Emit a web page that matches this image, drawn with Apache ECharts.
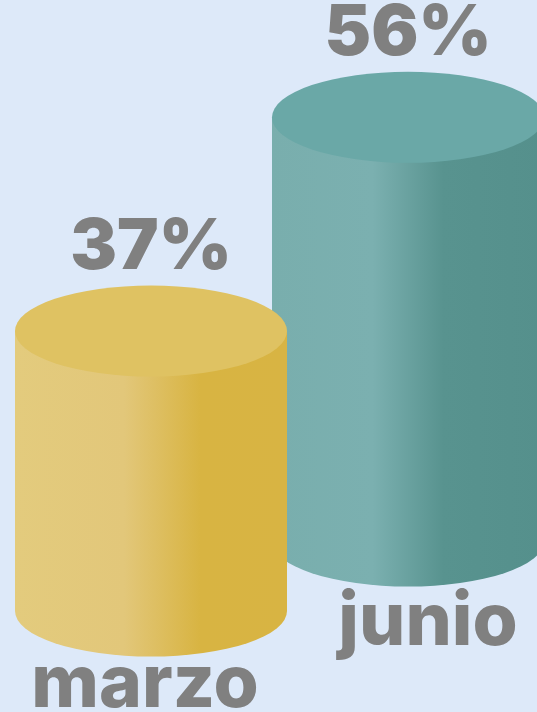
<!DOCTYPE html>
<html>
<head>
<meta charset="utf-8">
<script src="https://cdn.jsdelivr.net/npm/echarts@6/dist/echarts.min.js"></script>
<style>
html,body{margin:0;padding:0;background:#dde9f9;}
#chart{width:537px;height:712px;}
</style>
</head>
<body>
<div id="chart"></div>
<script>
const categories = ['marzo', 'junio'];
const values = [37, 56];

const palettes = [
  { top: '#dfc262', body: [['0', '#e3cb7d'], ['0.4', '#e2c77a'], ['0.68', '#d8b442'], ['1', '#d8b443']] },
  { top: '#6aa8a7', body: [['0', '#79aead'], ['0.37', '#7bb0b0'], ['0.63', '#58938f'], ['1', '#55908c']] }
];

const RY = 45.5;

function makeRender(pal) {
  return function (params, api) {
    const t = api.coord([api.value(0), api.value(1)]);
    const b = api.coord([api.value(0), 0]);
    const rx = api.size([1, 0])[0] / 2;
    const cx = t[0];
    const body = 'M' + (cx - rx) + ' ' + t[1] + ' L' + (cx - rx) + ' ' + b[1] +
      ' A' + rx + ' ' + RY + ' 0 0 0 ' + (cx + rx) + ' ' + b[1] +
      ' L' + (cx + rx) + ' ' + t[1] + ' Z';
    const top = 'M' + (cx - rx) + ' ' + t[1] +
      ' A' + rx + ' ' + RY + ' 0 1 0 ' + (cx + rx) + ' ' + t[1] +
      ' A' + rx + ' ' + RY + ' 0 1 0 ' + (cx - rx) + ' ' + t[1] + ' Z';
    return {
      type: 'group',
      children: [
        {
          type: 'path',
          shape: { pathData: body },
          style: {
            fill: new echarts.graphic.LinearGradient(0, 0, 1, 0,
              pal.body.map(s => ({ offset: +s[0], color: s[1] })))
          }
        },
        {
          type: 'path',
          shape: { pathData: top },
          style: { fill: pal.top }
        },
        {
          type: 'text',
          style: {
            text: api.value(1) + '%',
            x: cx,
            y: t[1] - RY - 38,
            align: 'center',
            verticalAlign: 'middle',
            fontSize: 70,
            fontWeight: 900,
            fontFamily: 'Inter',
            fill: '#808080'
          }
        }
      ]
    };
  };
}

const chart = echarts.init(document.getElementById('chart'), null, { renderer: 'canvas' });

const labelBase = {
  fontSize: 73,
  fontWeight: 800,
  fontFamily: 'Inter',
  color: '#808080'
};

chart.setOption({
  backgroundColor: '#dde9f9',
  animation: false,
  grid: [
    { left: 15, width: 272, top: 157, height: 454, outerBoundsMode: 'none', containLabel: false },
    { left: 272, width: 272, top: 87, height: 454, outerBoundsMode: 'none', containLabel: false }
  ],
  xAxis: [
    {
      gridIndex: 0, type: 'category', data: [categories[0]],
      axisLine: { show: false }, axisTick: { show: false },
      axisLabel: Object.assign({}, labelBase, { margin: 38, padding: [0, 12, 0, 0] })
    },
    {
      gridIndex: 1, type: 'category', data: [categories[1]],
      axisLine: { show: false }, axisTick: { show: false },
      axisLabel: Object.assign({}, labelBase, { margin: 46, padding: [0, 0, 0, 40] })
    }
  ],
  yAxis: [
    { gridIndex: 0, type: 'value', min: 0, max: 60, show: false },
    { gridIndex: 1, type: 'value', min: 0, max: 60, show: false }
  ],
  series: [
    {
      type: 'custom', xAxisIndex: 1, yAxisIndex: 1,
      renderItem: makeRender(palettes[1]),
      data: [[0, values[1]]],
      clip: false
    },
    {
      type: 'custom', xAxisIndex: 0, yAxisIndex: 0,
      renderItem: makeRender(palettes[0]),
      data: [[0, values[0]]],
      clip: false
    }
  ]
});
</script>
</body>
</html>
